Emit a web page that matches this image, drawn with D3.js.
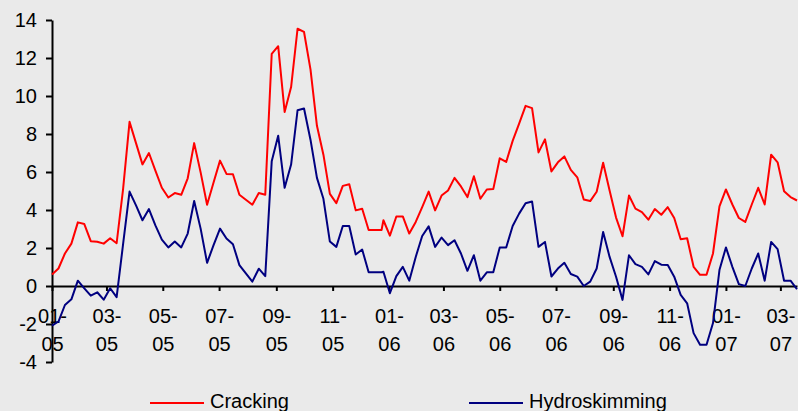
<!DOCTYPE html>
<html>
<head>
<meta charset="utf-8">
<script src="https://cdn.jsdelivr.net/npm/d3@7"></script>
<style>
  html, body { margin: 0; padding: 0; background: #eaeaea; }
  svg { display: block; }
</style>
</head>
<body>
<svg id="chart"></svg>
<script>
// Weekly observations: Saturdays through 2005, then Mondays from the last week of 2005
const weeks2005 = d3.timeSaturday.range(new Date(2005, 0, 1), new Date(2005, 11, 25));
const weeksLater = d3.timeMonday.range(new Date(2005, 11, 26), new Date(2007, 2, 20));
const dates = weeks2005.concat(weeksLater);

// Margin values
const cracking = [
    0.61, 0.92, 1.71, 2.23, 3.35, 3.26, 2.36, 2.33, 2.23, 2.51,
    2.25, 5.1, 8.64, 7.52, 6.40, 7.0, 6.07, 5.17, 4.66, 4.89,
    4.80, 5.67, 7.52, 5.98, 4.28, 5.45, 6.60, 5.9, 5.88, 4.80,
    4.54, 4.28, 4.89, 4.80, 12.22, 12.62, 9.16, 10.47, 13.54, 13.37,
    11.4, 8.43, 6.91, 4.85, 4.36, 5.27, 5.36, 3.98, 4.07, 2.95,
    2.95, 2.95, 3.46, 2.65, 3.66, 3.66, 2.76, 3.37, 4.15, 4.97,
    3.98, 4.76, 5.03, 5.69, 5.24, 4.68, 5.78, 4.59, 5.08, 5.10,
    6.72, 6.53, 7.64, 8.55, 9.48, 9.36, 7.03, 7.72, 6.03, 6.51,
    6.82, 6.11, 5.72, 4.55, 4.47, 4.96, 6.49, 5.03, 3.60, 2.62,
    4.76, 4.07, 3.89, 3.49, 4.05, 3.75, 4.15, 3.58, 2.46, 2.51,
    1.01, 0.59, 0.59, 1.71, 4.19, 5.08, 4.29, 3.58, 3.37, 4.29,
    5.17, 4.29, 6.91, 6.51, 4.99, 4.68, 4.50
];

const hydroskimming = [
    -2.09, -1.87, -1.0, -0.70, 0.28, -0.12, -0.51, -0.33, -0.72, -0.12,
    -0.59, 2.2, 4.97, 4.24, 3.46, 4.05, 3.19, 2.44, 2.03, 2.34,
    2.03, 2.76, 4.47, 3.02, 1.22, 2.15, 3.02, 2.50, 2.20, 1.10,
    0.66, 0.23, 0.91, 0.52, 6.56, 7.91, 5.17, 6.39, 9.25, 9.34,
    7.7, 5.69, 4.59, 2.34, 2.06, 3.16, 3.16, 1.66, 1.92, 0.72,
    0.72, 0.72, 0.75, -0.38, 0.52, 1.01, 0.28, 1.53, 2.63, 3.14,
    2.06, 2.55, 2.15, 2.41, 1.71, 0.80, 1.62, 0.28, 0.72, 0.72,
    2.03, 2.03, 3.16, 3.81, 4.36, 4.45, 2.06, 2.32, 0.5, 0.92,
    1.22, 0.63, 0.49, 0.0, 0.23, 0.92, 2.84, 1.53, 0.49, -0.73,
    1.62, 1.15, 1.01, 0.61, 1.31, 1.12, 1.10, 0.49, -0.47, -0.91,
    -2.48, -3.09, -3.09, -1.95, 0.84, 2.03, 1.01, 0.1, 0.0, 0.92,
    1.71, 0.28, 2.32, 1.94, 0.28, 0.28, -0.17
];

const yTicks = [-4, -2, 0, 2, 4, 6, 8, 10, 12, 14];
const seriesNames = ['Cracking', 'Hydroskimming'];

function createChart() {
    const width = 798;
    const height = 411;
    const font = "'Liberation Sans', Arial, sans-serif";
    const colors = ['#ff0000', '#000080'];

    const svg = d3.select('#chart')
                  .attr('width', width)
                  .attr('height', height)
                  .style('background-color', '#eaeaea');

    const xScale = d3.scaleTime()
                     .domain([new Date(2005, 0, 1), new Date(2007, 2, 19)])
                     .range([52, 797]);

    const yScale = d3.scaleLinear()
                     .domain([-4, 14])
                     .range([362, 20]);

    // Y axis (plain hyphen for negatives, as in the original)
    const yAxis = svg.append('g')
       .attr('transform', 'translate(52,0)')
       .call(d3.axisLeft(yScale)
           .tickValues(yTicks)
           .tickFormat(d => String(d))
           .tickSize(6)
           .tickSizeOuter(0)
           .tickPadding(9));
    yAxis.select('.domain').attr('stroke', '#000').attr('stroke-width', 2);
    yAxis.selectAll('.tick line').attr('stroke', '#000').attr('stroke-width', 2);
    yAxis.selectAll('.tick text')
         .style('font-family', font)
         .style('font-size', '20px')
         .attr('fill', '#000');

    // X axis sits on the zero line, labels split over two lines
    const xAxis = svg.append('g')
       .attr('transform', `translate(0,${yScale(0)})`)
       .call(d3.axisBottom(xScale)
           .ticks(d3.timeMonth.every(2))
           .tickSize(5)
           .tickSizeOuter(0));
    xAxis.select('.domain').attr('stroke', '#000').attr('stroke-width', 2);
    xAxis.selectAll('.tick line').attr('stroke', '#000').attr('stroke-width', 2);

    const fmtMonth = d3.timeFormat('%m-');
    const fmtYear = d3.timeFormat('%y');
    xAxis.selectAll('.tick text')
         .text(null)
         .attr('y', 0)
         .attr('dy', null)
         .style('font-family', font)
         .style('font-size', '20px')
         .attr('fill', '#000')
         .each(function(d) {
             const t = d3.select(this);
             t.append('tspan').attr('x', 0).attr('y', 36.5).text(fmtMonth(d));
             t.append('tspan').attr('x', 0).attr('y', 64.5).text(fmtYear(d));
         });

    // Lines
    const line = d3.line()
                   .x((d, i) => xScale(dates[i]))
                   .y(d => yScale(d));

    [cracking, hydroskimming].forEach((series, k) => {
        svg.append('path')
           .datum(series)
           .attr('fill', 'none')
           .attr('stroke', colors[k])
           .attr('stroke-width', 2)
           .attr('stroke-linejoin', 'round')
           .attr('d', line);
    });

    // Legend
    const legendX = [150, 469];
    seriesNames.forEach((name, k) => {
        svg.append('line')
           .attr('x1', legendX[k])
           .attr('x2', legendX[k] + 54)
           .attr('y1', 403)
           .attr('y2', 403)
           .attr('stroke', colors[k])
           .attr('stroke-width', 2);

        svg.append('text')
           .attr('x', legendX[k] + 60)
           .attr('y', 408)
           .text(name)
           .style('font-family', font)
           .style('font-size', '20px')
           .style('fill', '#000');
    });
}

createChart();
</script>
</body>
</html>
